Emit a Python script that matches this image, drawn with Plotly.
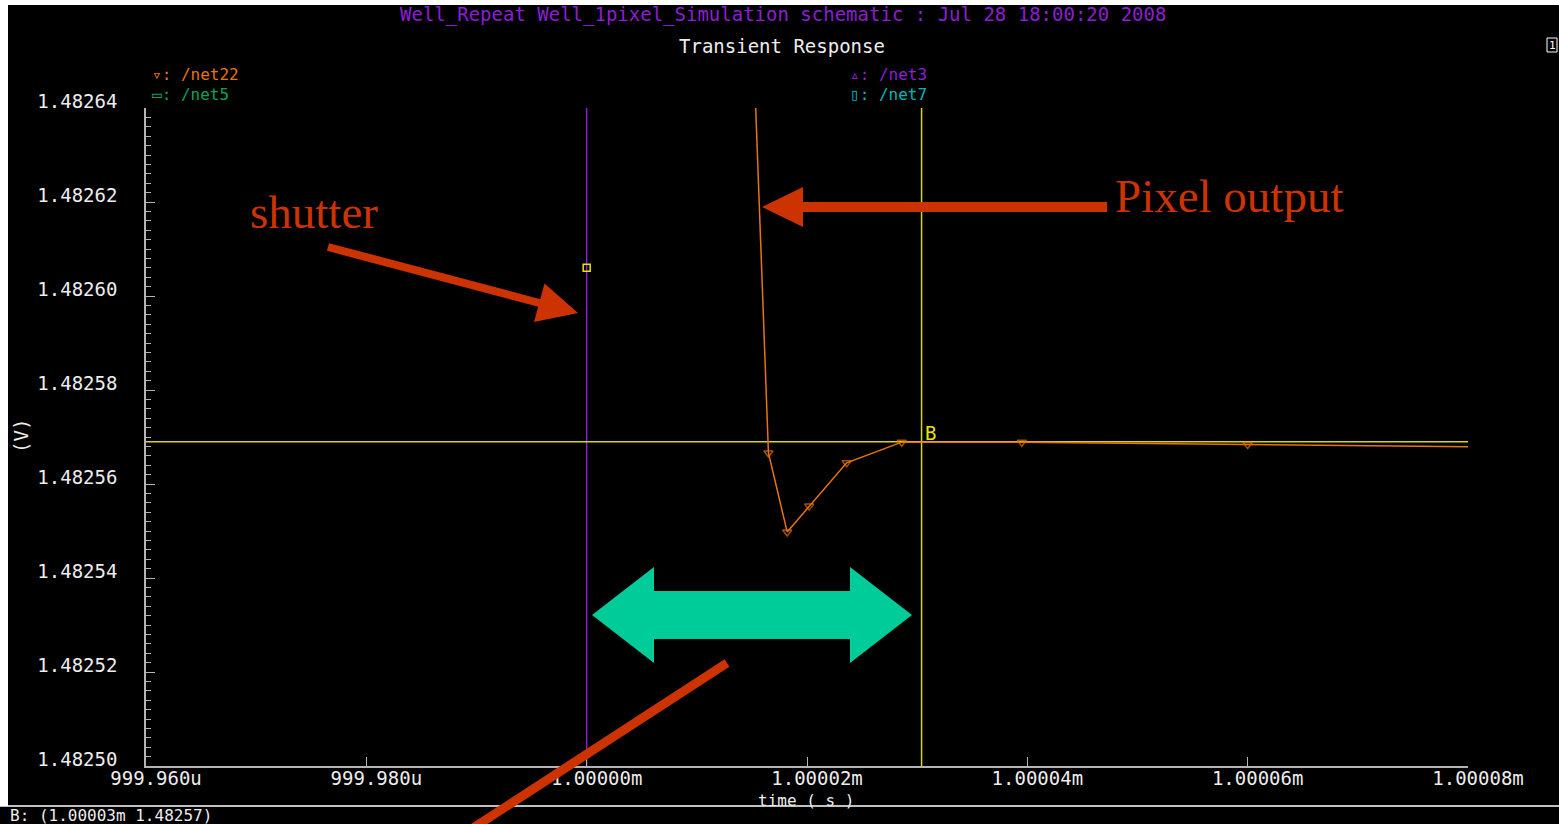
import plotly.graph_objects as go

# ---------------- data ----------------
# /net22 : pixel output (time in s, voltage in V)
net22_t = [1.0000144e-3, 1.0000165e-3, 1.0000182e-3, 1.0000202e-3, 1.0000236e-3,
           1.0000286e-3, 1.0000395e-3, 1.0000600e-3, 1.0000802e-3]
net22_v = [1.48270, 1.4825666, 1.4825498, 1.4825553, 1.4825645,
           1.4825689, 1.4825689, 1.4825684, 1.4825679]

# /net3 : shutter edge
shutter_t = 1.0e-3

# marker A on the shutter trace, marker B crosshair
marker_a = (1.0e-3, 1.482606)
marker_b = (1.0000304e-3, 1.482569)

# axes
x_range = [0.99996e-3, 1.00008e-3]
y_range = [1.48250, 1.48264]
x_tickvals = [0.99996e-3, 0.99998e-3, 1.00000e-3, 1.00002e-3, 1.00004e-3, 1.00006e-3, 1.00008e-3]
x_ticktext = ["999.960u", "999.980u", "1.00000m", "1.00002m", "1.00004m", "1.00006m", "1.00008m"]
y_tickvals = [1.48250, 1.48252, 1.48254, 1.48256, 1.48258, 1.48260, 1.48262, 1.48264]

# legend entries: (symbol, name, colour)
legend_left = [("▿", "/net22", "#E8740C"), ("▭", "/net5", "#00A655")]
legend_right = [("▵", "/net3", "#8B1FD6"), ("▯", "/net7", "#00B8B8")]

# ---------------- styling ----------------
W, H = 1559, 824
ML, MR, MT, MB = 146, 91, 108, 58
MONO = "DejaVu Sans Mono"
SERIF = "Liberation Serif"
ORANGE = "#E8740C"
PURPLE = "#8B1FD6"
YELLOW = "#D8D800"
AXIS = "#B4B4B4"
RED = "#CC3300"
TEAL = "#00CC9A"
FS = 19


def pp(px, py):
    """Page pixel -> paper coordinates."""
    return (px - ML) / (W - ML - MR), (H - MB - py) / (H - MT - MB)


def poly(points):
    pts = [pp(*p) for p in points]
    return "M " + " L ".join(f"{x:.5f},{y:.5f}" for x, y in pts) + " Z"


def seg(p0, p1, color, width):
    x0, y0 = pp(*p0)
    x1, y1 = pp(*p1)
    return dict(type="line", xref="paper", yref="paper", x0=x0, y0=y0, x1=x1, y1=y1,
                line=dict(color=color, width=width), layer="above")


fig = go.Figure()

# shutter (/net3) edge
fig.add_trace(go.Scatter(x=[shutter_t, shutter_t], y=y_range, mode="lines",
                         line=dict(color=PURPLE, width=1.5), hoverinfo="skip"))
# crosshair of marker B
fig.add_trace(go.Scatter(x=x_range, y=[marker_b[1], marker_b[1]], mode="lines",
                         line=dict(color=YELLOW, width=1.5), hoverinfo="skip"))
fig.add_trace(go.Scatter(x=[marker_b[0], marker_b[0]], y=y_range, mode="lines",
                         line=dict(color=YELLOW, width=1.5), hoverinfo="skip"))
# pixel output (/net22)
n = len(net22_t)
fig.add_trace(go.Scatter(
    x=net22_t, y=net22_v, mode="lines+markers",
    line=dict(color=ORANGE, width=1.5),
    marker=dict(symbol="triangle-down-open", color=ORANGE,
                size=[0 if i in (0, n - 1) else 8 for i in range(n)],
                line=dict(width=1.5, color=ORANGE)),
))
# marker A
fig.add_trace(go.Scatter(x=[marker_a[0]], y=[marker_a[1]], mode="markers",
                         marker=dict(symbol="square-open", size=7, color="#E6E600",
                                     line=dict(width=1.5, color="#E6E600"))))

axis_common = dict(showgrid=False, zeroline=False, showline=True, linecolor=AXIS,
                   linewidth=1.5, ticks="inside", tickcolor=AXIS, tickwidth=1.2,
                   ticklen=9, tickfont=dict(family=MONO, size=FS, color="#EDEDED"),
                   mirror=False)

fig.update_xaxes(range=x_range, tickmode="array", tickvals=x_tickvals, ticktext=x_ticktext,
                 ticklabelshift=10, ticklabelstandoff=-6,
                 minor=dict(ticks="inside", ticklen=5, tickcolor=AXIS, tickwidth=1.2,
                            dtick=2e-6, tick0=x_range[0], showgrid=False),
                 **axis_common)
fig.update_yaxes(range=y_range, tickmode="array", tickvals=y_tickvals,
                 ticktext=[f"{v:.5f}" for v in y_tickvals],
                 ticklabelshift=-7, ticklabelstandoff=23,
                 minor=dict(ticks="inside", ticklen=5, tickcolor=AXIS, tickwidth=1.2,
                            dtick=2e-6, tick0=y_range[0], showgrid=False),
                 **axis_common)

shapes = []
# window frame: white border strips, status-bar separator
x0, y0 = pp(0, 0)
x1, y1 = pp(8, 806)
shapes.append(dict(type="rect", xref="paper", yref="paper", x0=x0, y0=y0, x1=x1, y1=y1,
                   fillcolor="white", line=dict(width=0), layer="below"))
x0, y0 = pp(0, 0)
x1, y1 = pp(W, 5)
shapes.append(dict(type="rect", xref="paper", yref="paper", x0=x0, y0=y0, x1=x1, y1=y1,
                   fillcolor="white", line=dict(width=0), layer="below"))
shapes.append(seg((0, 806), (W, 806), "white", 1.5))
# small window icon
x0, y0 = pp(1547, 38)
x1, y1 = pp(1557, 52)
shapes.append(dict(type="rect", xref="paper", yref="paper", x0=x0, y0=y0, x1=x1, y1=y1,
                   line=dict(color="white", width=1), layer="above"))

# "shutter" arrow
shapes.append(seg((328, 247), (545, 304.5), RED, 8))
shapes.append(dict(type="path", xref="paper", yref="paper",
                   path=poly([(578, 313), (534, 322), (544.5, 283.5)]),
                   fillcolor=RED, line=dict(width=0), layer="above"))
# "Pixel output" arrow
shapes.append(seg((801, 207), (1107, 207), RED, 10))
shapes.append(dict(type="path", xref="paper", yref="paper",
                   path=poly([(762, 207), (803, 187), (803, 227)]),
                   fillcolor=RED, line=dict(width=0), layer="above"))
# pointer line from the interval arrow
shapes.append(seg((727, 663), (470, 830), RED, 9))
# double-headed interval arrow
shapes.append(dict(type="path", xref="paper", yref="paper",
                   path=poly([(592, 615), (654, 567), (654, 591), (850, 591), (850, 567),
                              (912, 615), (850, 663), (850, 639), (654, 639), (654, 663)]),
                   fillcolor=TEAL, line=dict(width=0), layer="above"))

annotations = []


def text_at(px, py, text, color, size, family=MONO, xanchor="center", angle=0):
    x, y = pp(px, py)
    annotations.append(dict(x=x, y=y, xref="paper", yref="paper", text=text,
                            showarrow=False, xanchor=xanchor, yanchor="middle",
                            textangle=angle,
                            font=dict(family=family, size=size, color=color)))


text_at(783, 14, "Well_Repeat Well_1pixel_Simulation schematic : Jul 28 18:00:20 2008",
        "#8C1ED2", FS)
text_at(782, 46, "Transient Response", "#EDEDED", FS)
for i, (sym, name, col) in enumerate(legend_left):
    text_at(150, 75 + 20 * i, f"{sym}: {name}", col, 16, xanchor="left")
for i, (sym, name, col) in enumerate(legend_right):
    text_at(848, 75 + 20 * i, f"{sym}: {name}", col, 16, xanchor="left")
text_at(806, 800, "time ( s )", "#EDEDED", 16)
text_at(21, 436, "(V)", "#EDEDED", FS, angle=-90)
text_at(8, 815, f"B: ({marker_b[0] * 1e3:.5f}m {marker_b[1]:.5f})", "#EDEDED", 16, xanchor="left")
text_at(1552, 45, "1", "white", 11)
text_at(314, 212, "shutter", RED, 47, family=SERIF)
text_at(1229, 196, "Pixel output", RED, 47, family=SERIF)

# marker B label
annotations.append(dict(x=marker_b[0], y=marker_b[1], xref="x", yref="y", text="B",
                        showarrow=False, xanchor="left", yanchor="bottom", xshift=1, yshift=-4,
                        font=dict(family=MONO, size=FS, color="#E6E600")))

fig.update_layout(
    width=W, height=H, autosize=False,
    margin=dict(l=ML, r=MR, t=MT, b=MB, pad=0),
    paper_bgcolor="black", plot_bgcolor="black",
    showlegend=False, shapes=shapes, annotations=annotations,
)

fig.write_html("out.html")
